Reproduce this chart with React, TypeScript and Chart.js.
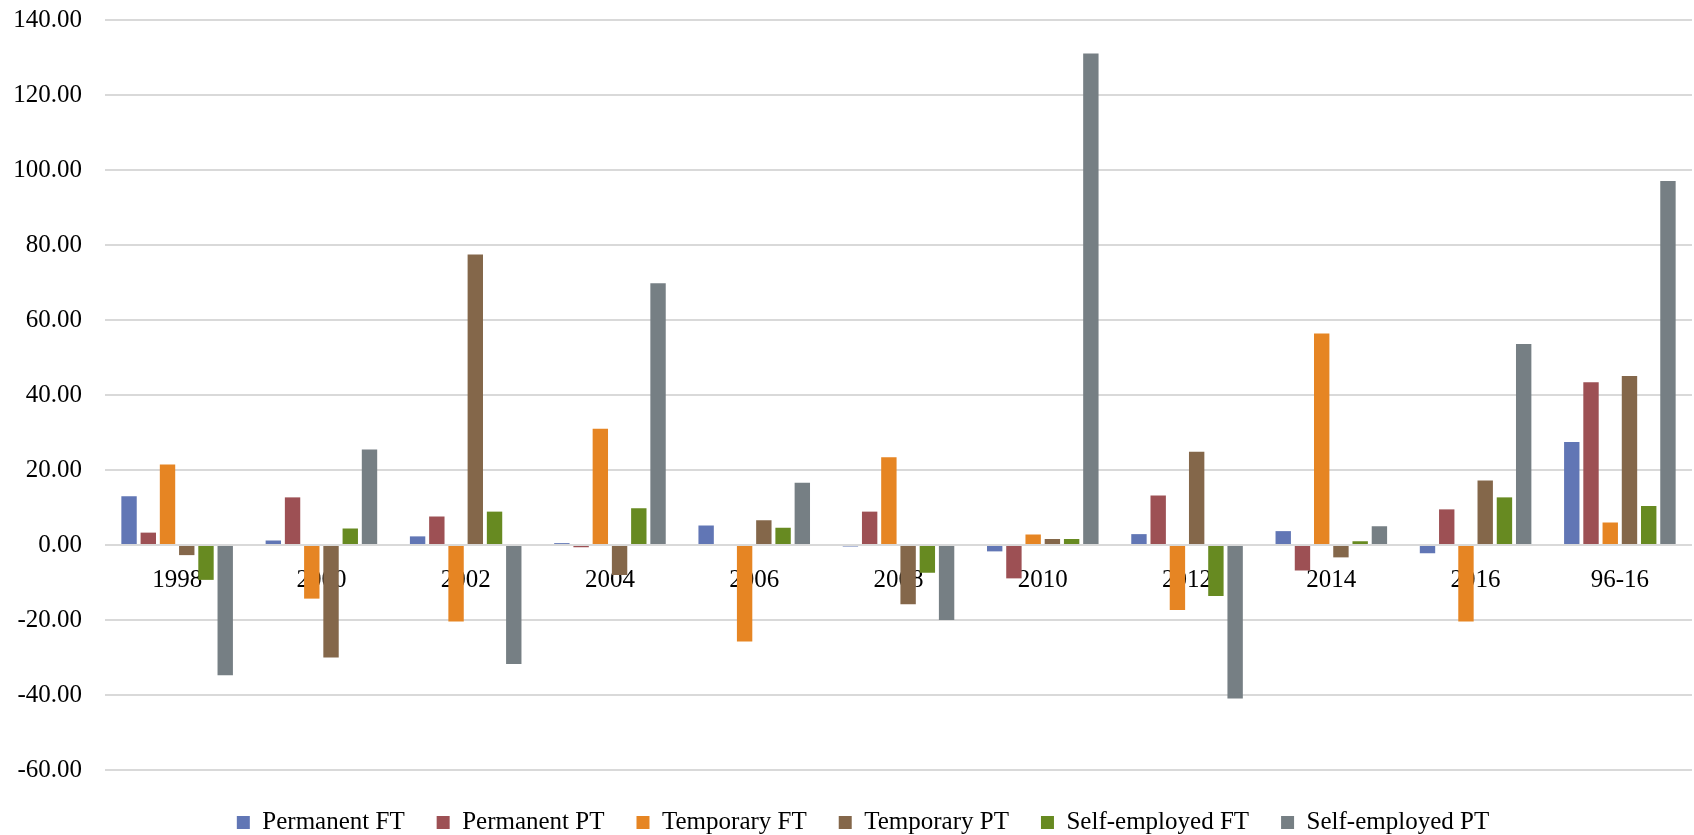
import React, { useEffect, useRef } from "react";
import { Chart, registerables } from "chart.js";

Chart.register(...registerables);

// Categories (survey years plus the 1996-2016 total)
const categories = ["1998", "2000", "2002", "2004", "2006", "2008", "2010", "2012", "2014", "2016", "96-16"];

// Percentage change by employment type
const permanentFT = [13.0, 1.2, 2.3, 0.5, 5.2, -0.4, -1.7, 2.9, 3.7, -2.2, 27.5];
const permanentPT = [3.3, 12.7, 7.6, -0.6, 0.0, 8.9, -8.9, 13.2, -6.8, 9.5, 43.4];
const temporaryFT = [21.5, -14.3, -20.4, 31.0, -25.7, 23.4, 2.8, -17.3, 56.4, -20.4, 6.0];
const temporaryPT = [-2.7, -30.0, 77.5, -8.0, 6.6, -15.8, 1.6, 24.9, -3.3, 17.2, 45.1];
const selfEmployedFT = [-9.3, 4.4, 8.9, 9.8, 4.6, -7.4, 1.6, -13.6, 1.0, 12.7, 10.4];
const selfEmployedPT = [-34.7, 25.5, -31.7, 69.8, 16.6, -20.0, 131.1, -40.9, 5.0, 53.6, 97.1];

const seriesNames = [
  "Permanent FT",
  "Permanent PT",
  "Temporary FT",
  "Temporary PT",
  "Self-employed FT",
  "Self-employed PT",
];
const seriesColors = ["#6176B5", "#9D5054", "#E68523", "#84674A", "#678A21", "#767F84"];

// y-axis range and step
const yMin = -60;
const yMax = 140;
const yStep = 20;

const FONT = "'Liberation Serif', 'Times New Roman', serif";

// Reserve a fixed band for the legend and nudge its items into place
const legendPlacement = {
  id: "legendPlacement",
  beforeInit(chart: any) {
    const legend = chart.legend;
    if (!legend) return;
    const origFit = legend.fit;
    legend.fit = function () {
      origFit.call(legend);
      legend.height = 65;
    };
  },
  afterLayout(chart: any) {
    const legend = chart.legend;
    if (!legend) return;
    legend.top += 8;
    legend.bottom += 8;
    legend.left += 17;
    legend.right += 17;
  },
};

export default function App() {
  const canvasRef = useRef<HTMLCanvasElement | null>(null);

  useEffect(() => {
    document.body.style.margin = "0";
    const canvas = canvasRef.current;
    if (!canvas) return;

    const values = [permanentFT, permanentPT, temporaryFT, temporaryPT, selfEmployedFT, selfEmployedPT];

    const chart = new Chart(canvas, {
      type: "bar",
      data: {
        labels: categories,
        datasets: values.map((data, i) => ({
          label: seriesNames[i],
          data,
          backgroundColor: seriesColors[i],
          borderWidth: 0,
          categoryPercentage: 0.8,
          barPercentage: 0.8,
        })),
      },
      plugins: [legendPlacement],
      options: {
        animation: false,
        responsive: true,
        maintainAspectRatio: false,
        layout: { padding: { top: 20, right: 2, bottom: 0, left: 0 } },
        plugins: {
          legend: {
            position: "bottom",
            labels: {
              font: { family: FONT, size: 25 },
              color: "#000",
              boxWidth: 13,
              boxHeight: 13,
              padding: 32,
            },
          },
          tooltip: { enabled: false },
        },
        scales: {
          x: {
            position: { y: 0 } as any,
            z: 1,
            grid: { display: false, drawTicks: false },
            border: { display: false },
            ticks: {
              font: { family: FONT, size: 25 },
              color: "#000",
              padding: 20,
              maxRotation: 0,
              autoSkip: false,
            },
          },
          y: {
            min: yMin,
            max: yMax,
            afterFit(scale: any) {
              scale.width = 105;
              scale.paddingTop = 0;
              scale.paddingBottom = 0;
            },
            grid: { color: "#D9D9D9", lineWidth: 2, drawTicks: false },
            border: { display: false },
            ticks: {
              stepSize: yStep,
              padding: 23,
              font: { family: FONT, size: 25 },
              color: "#000",
              callback: (v: any) => Number(v).toFixed(2),
            },
          },
        },
      },
    });

    return () => chart.destroy();
  }, []);

  return (
    <div style={{ position: "relative", width: "1694px", height: "835px" }}>
      <canvas ref={canvasRef} />
    </div>
  );
}
